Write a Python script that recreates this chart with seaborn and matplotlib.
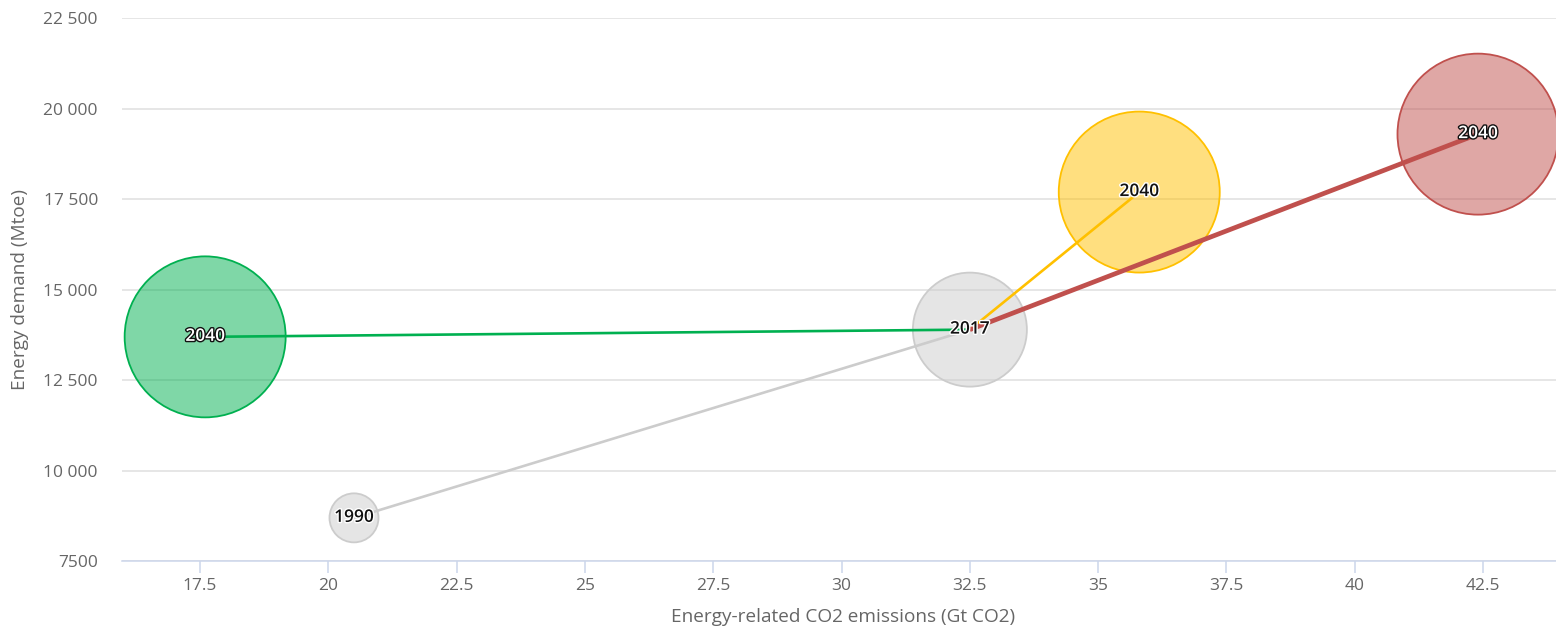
import matplotlib
matplotlib.use("Agg")
import matplotlib.pyplot as plt
import matplotlib.patheffects as pe
from matplotlib.colors import to_rgba
import seaborn as sns
import pandas as pd

# ---------------- data ----------------
point_ids = ["1990", "2017", "SDS 2040", "NPS 2040", "CPS 2040"]
point_labels = ["1990", "2017", "2040", "2040", "2040"]
point_series = ["Historical", "Historical", "Sustainable", "New Policies", "Current Policies"]
co2_gt = [20.5, 32.5, 17.6, 35.8, 42.4]
demand_mtoe = [8700, 13900, 13700, 17700, 19300]
bubble_z = [9, 50, 100, 100, 100]

# paths drawn between points (start id, end id)
path_names = ["Historical", "Sustainable", "New Policies", "Current Policies"]
path_from = ["1990", "2017", "2017", "2017"]
path_to = ["2017", "SDS 2040", "NPS 2040", "CPS 2040"]

x_ticks = [17.5, 20, 22.5, 25, 27.5, 30, 32.5, 35, 37.5, 40, 42.5]
x_tick_labels = ["17.5", "20", "22.5", "25", "27.5", "30", "32.5", "35", "37.5", "40", "42.5"]
y_ticks = [7500, 10000, 12500, 15000, 17500, 20000, 22500]
y_tick_labels = ["7500", "10 000", "12 500", "15 000", "17 500", "20 000", "22 500"]

x_title = "Energy-related CO2 emissions (Gt CO2)"
y_title = "Energy demand (Mtoe)"

# ---------------- styles ----------------
palette = {
    "Historical": "#cccccc",
    "Sustainable": "#00b050",
    "New Policies": "#ffc000",
    "Current Policies": "#c0504d",
}
line_widths = {"Historical": 1.9, "Sustainable": 1.9, "New Policies": 1.9, "Current Policies": 3.4}
label_light = {"Historical": False, "Sustainable": True, "New Policies": False, "Current Policies": True}

sns.set_theme(style="white")
plt.rcParams["font.family"] = ["Open Sans", "DejaVu Sans"]

pts = pd.DataFrame({
    "id": point_ids, "label": point_labels, "series": point_series,
    "x": co2_gt, "y": demand_mtoe, "z": bubble_z,
})
lookup = pts.set_index("id")

rows = []
for name, a, b in zip(path_names, path_from, path_to):
    for pid, order in ((a, 0), (b, 1)):
        rows.append({"path": name, "order": order,
                     "x": lookup.loc[pid, "x"], "y": lookup.loc[pid, "y"]})
lines = pd.DataFrame(rows)

fig = plt.figure(figsize=(15.56, 6.28), dpi=100)
ax = fig.add_axes([122 / 1556, 66.7 / 628, 1434 / 1556, 543 / 628])

# bubbles
sns.scatterplot(data=pts, x="x", y="y", hue="series", palette=palette,
                size="z", sizes=(1245, 13437), size_norm=(9, 100),
                legend=False, ax=ax, zorder=2, linewidth=1.3)
coll = ax.collections[-1]
cols = [palette[s] for s in pts["series"]]
coll.set_facecolors([to_rgba(c, 0.5) for c in cols])
coll.set_edgecolors([to_rgba(c, 1.0) for c in cols])
coll.set_clip_on(True)

# connecting lines
sns.lineplot(data=lines, x="x", y="y", hue="path", palette=palette,
             size="path", sizes=line_widths, sort=False, estimator=None,
             units="path", legend=False, ax=ax, zorder=3)
for ln in ax.lines:
    ln.set_solid_capstyle("butt")

# labels
for _, r in pts.iterrows():
    light = label_light[r["series"]]
    fc = "white" if light else "#111111"
    sc = "#111111" if light else "white"
    ax.text(r["x"], r["y"], r["label"], ha="center", va="center",
            fontsize=12.5, fontweight="semibold", color=fc, zorder=5,
            path_effects=[pe.Stroke(linewidth=2.0, foreground=sc), pe.Normal()])

# axes
ax.set_xlim(15.98, 43.92)
ax.set_ylim(7500, 22500)
ax.set_xticks(x_ticks)
ax.set_xticklabels(x_tick_labels)
ax.set_yticks(y_ticks)
ax.set_yticklabels(y_tick_labels)
ax.grid(axis="y", color="#e6e6e6", linewidth=1.4)
ax.grid(axis="x", visible=False)
ax.set_axisbelow(True)
for s in ("left", "right", "top"):
    ax.spines[s].set_visible(False)
ax.spines["bottom"].set_color("#ccd6eb")
ax.spines["bottom"].set_linewidth(1.1)
ax.tick_params(axis="x", bottom=True, length=8.4, width=1.1, color="#ccd6eb",
               direction="out", pad=3.6, labelsize=12.5, labelcolor="#666666")
ax.tick_params(axis="y", left=False, length=0, pad=17.3, labelsize=12.5,
               labelcolor="#666666")
ax.set_xlabel(x_title, fontsize=13.7, color="#666666", va="center")
ax.set_ylabel(y_title, fontsize=13.7, color="#666666", va="center")
ax.xaxis.set_label_coords(0.5025, -0.102)
ax.yaxis.set_label_coords(-0.0711, 0.5)

fig.savefig("out.png", dpi=100)
